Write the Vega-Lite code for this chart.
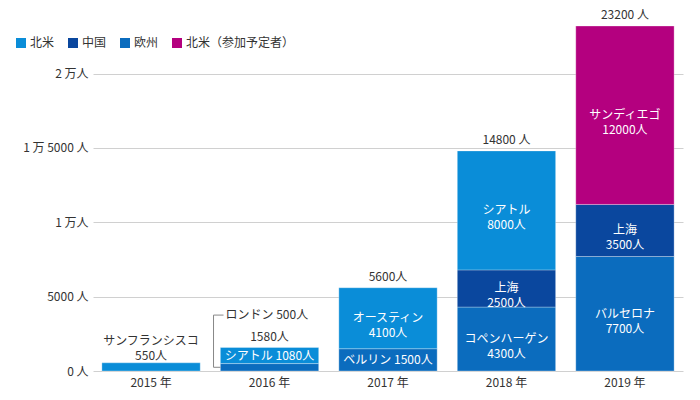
{
  "$schema": "https://vega.github.io/schema/vega-lite/v6.json",
  "width": 590,
  "height": 345,
  "autosize": {"type": "none"},
  "padding": {"left": 93, "top": 26, "right": 17, "bottom": 29},
  "background": "white",
  "config": {
    "font": "Noto Sans CJK JP",
    "view": {"stroke": null}
  },
  "datasets": {
    "segments": [
      {"year": "2015 年", "region": "北米", "city": "サンフランシスコ", "v": 550, "label": null},
      {"year": "2016 年", "region": "欧州", "city": "ロンドン", "v": 500, "label": null},
      {"year": "2016 年", "region": "北米", "city": "シアトル", "v": 1080, "label": "シアトル 1080人"},
      {"year": "2017 年", "region": "欧州", "city": "ベルリン", "v": 1500, "label": "ベルリン 1500人"},
      {"year": "2017 年", "region": "北米", "city": "オースティン", "v": 4100, "label": ["オースティン", "4100人"]},
      {"year": "2018 年", "region": "欧州", "city": "コペンハーゲン", "v": 4300, "label": ["コペンハーゲン", "4300人"]},
      {"year": "2018 年", "region": "中国", "city": "上海", "v": 2500, "label": ["上海", "2500人"]},
      {"year": "2018 年", "region": "北米", "city": "シアトル", "v": 8000, "label": ["シアトル", "8000人"]},
      {"year": "2019 年", "region": "欧州", "city": "バルセロナ", "v": 7700, "label": ["バルセロナ", "7700人"]},
      {"year": "2019 年", "region": "中国", "city": "上海", "v": 3500, "label": ["上海", "3500人"]},
      {"year": "2019 年", "region": "北米（参加予定者）", "city": "サンディエゴ", "v": 12000, "label": ["サンディエゴ", "12000人"]}
    ],
    "totals": [
      {"year": "2015 年", "total": 550, "label": ["サンフランシスコ", "550人"], "lines": 2},
      {"year": "2016 年", "total": 1580, "label": "1580人", "lines": 1},
      {"year": "2017 年", "total": 5600, "label": "5600人", "lines": 1},
      {"year": "2018 年", "total": 14800, "label": "14800 人", "lines": 1},
      {"year": "2019 年", "total": 23200, "label": "23200 人", "lines": 1}
    ],
    "note": [
      {"year": "2016 年", "y0": 250, "y1": 3760, "label": "ロンドン 500人"}
    ]
  },
  "layer": [
    {
      "data": {"name": "segments"},
      "transform": [
        {"calculate": "indexof(['欧州', '中国', '北米', '北米（参加予定者）'], datum.region)", "as": "ord"}
      ],
      "mark": {"type": "bar", "stroke": "white", "strokeWidth": 0.6, "strokeOpacity": 0.5},
      "encoding": {
        "x": {
          "field": "year",
          "type": "nominal",
          "sort": null,
          "scale": {"paddingInner": 0.17, "paddingOuter": 0.075},
          "axis": {
            "title": null,
            "labelAngle": 0,
            "domain": false,
            "ticks": false,
            "labelPadding": 6,
            "labelFontSize": 12,
            "labelColor": "#333333"
          }
        },
        "y": {
          "field": "v",
          "type": "quantitative",
          "stack": "zero",
          "scale": {"domain": [0, 23200], "nice": false},
          "axis": {
            "title": null,
            "values": [0, 5000, 10000, 15000, 20000],
            "labelExpr": "datum.value == 0 ? '0 人' : datum.value == 5000 ? '5000 人' : datum.value == 10000 ? '1 万人' : datum.value == 15000 ? '1 万 5000 人' : '2 万人'",
            "domain": false,
            "ticks": false,
            "grid": true,
            "gridColor": "#d0d0d0",
            "labelPadding": 5,
            "labelFontSize": 12,
            "labelColor": "#333333"
          }
        },
        "color": {
          "field": "region",
          "type": "nominal",
          "scale": {
            "domain": ["北米", "中国", "欧州", "北米（参加予定者）"],
            "range": ["#0a8dd8", "#0a479e", "#0b6cbe", "#b4007f"]
          },
          "legend": {
            "title": null,
            "orient": "none",
            "legendX": -78,
            "legendY": 11,
            "direction": "horizontal",
            "symbolType": "square",
            "symbolSize": 100,
            "symbolStrokeWidth": 0,
            "labelFontSize": 12,
            "labelColor": "#333333",
            "labelOffset": 3,
            "columnPadding": 12
          }
        },
        "order": {"field": "ord", "type": "quantitative"}
      }
    },
    {
      "data": {"name": "segments"},
      "transform": [
        {"calculate": "indexof(['欧州', '中国', '北米', '北米（参加予定者）'], datum.region)", "as": "ord"},
        {"stack": "v", "groupby": ["year"], "sort": [{"field": "ord", "order": "ascending"}], "as": ["s0", "s1"]},
        {"calculate": "(datum.s0 + datum.s1) / 2", "as": "smid"},
        {"filter": "datum.label != null"}
      ],
      "mark": {"type": "text", "color": "white", "fontSize": 12, "lineHeight": 15, "baseline": "middle"},
      "encoding": {
        "x": {"field": "year", "type": "nominal", "sort": null},
        "y": {"field": "smid", "type": "quantitative"},
        "text": {"field": "label"}
      }
    },
    {
      "data": {"name": "totals"},
      "transform": [{"filter": "datum.lines == 1"}],
      "mark": {"type": "text", "color": "#333333", "fontSize": 12, "lineHeight": 15, "baseline": "bottom", "dy": -4},
      "encoding": {
        "x": {"field": "year", "type": "nominal", "sort": null},
        "y": {"field": "total", "type": "quantitative"},
        "text": {"field": "label"}
      }
    },
    {
      "data": {"name": "totals"},
      "transform": [{"filter": "datum.lines == 2"}],
      "mark": {"type": "text", "color": "#333333", "fontSize": 12, "lineHeight": 15, "baseline": "bottom", "dy": -15},
      "encoding": {
        "x": {"field": "year", "type": "nominal", "sort": null},
        "y": {"field": "total", "type": "quantitative"},
        "text": {"field": "label"}
      }
    },
    {
      "data": {"name": "note"},
      "mark": {"type": "rule", "color": "#888888", "strokeWidth": 1, "xOffset": -56},
      "encoding": {
        "x": {"field": "year", "type": "nominal", "sort": null},
        "y": {"field": "y0", "type": "quantitative"},
        "y2": {"field": "y1"}
      }
    },
    {
      "data": {"name": "note"},
      "mark": {"type": "rule", "color": "#888888", "strokeWidth": 1, "xOffset": -56, "x2Offset": -49},
      "encoding": {
        "x": {"field": "year", "type": "nominal", "sort": null},
        "x2": {"field": "year"},
        "y": {"field": "y0", "type": "quantitative"}
      }
    },
    {
      "data": {"name": "note"},
      "mark": {"type": "rule", "color": "#888888", "strokeWidth": 1, "xOffset": -56, "x2Offset": -46},
      "encoding": {
        "x": {"field": "year", "type": "nominal", "sort": null},
        "x2": {"field": "year"},
        "y": {"field": "y1", "type": "quantitative"}
      }
    },
    {
      "data": {"name": "note"},
      "mark": {"type": "text", "color": "#333333", "fontSize": 12, "align": "left", "baseline": "middle", "dx": -44},
      "encoding": {
        "x": {"field": "year", "type": "nominal", "sort": null},
        "y": {"field": "y1", "type": "quantitative"},
        "text": {"field": "label"}
      }
    }
  ]
}
